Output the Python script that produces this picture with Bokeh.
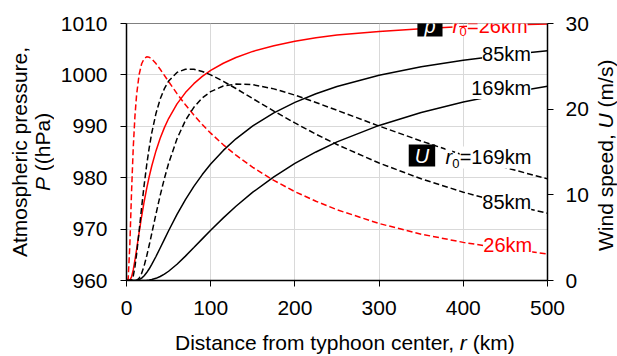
from bokeh.plotting import figure
from bokeh.models import Range1d, LinearAxis, Label, FixedTicker, Div
from bokeh.layouts import row, column
from bokeh.embed import file_html
from bokeh.resources import INLINE

# distance from typhoon center (km)
r_km = [0, 2, 4, 6, 8, 10, 12, 15, 18, 21, 24, 27, 30, 35, 40, 45, 50, 60, 70, 80,
        90, 100, 115, 130, 150, 175, 200, 225, 250, 300, 350, 400, 450, 500]

# atmospheric pressure (hPa) for r0 = 26, 85, 169 km
p_26 = [960.0, 960.0, 960.08, 960.70, 962.05, 963.94, 966.07, 969.37, 972.50, 975.37,
        977.94, 980.23, 982.28, 985.21, 987.67, 989.74, 991.51, 994.36, 996.56, 998.29,
        999.70, 1000.87, 1002.27, 1003.39, 1004.57, 1005.68, 1006.54, 1007.22, 1007.76,
        1008.45, 1009.0, 1009.4, 1009.7, 1009.9]
p_85 = [960.0, 960.0, 960.0, 960.0, 960.0, 960.01, 960.04, 960.18, 960.47, 960.93,
        961.54, 962.28, 963.12, 964.67, 966.33, 968.01, 969.68, 972.85, 975.74, 978.32,
        980.61, 982.65, 985.31, 987.57, 990.07, 992.61, 994.65, 996.33, 997.73,
        999.93, 1001.57, 1002.86, 1003.88, 1004.72]
p_169 = [960.0, 960.0, 960.0, 960.0, 960.0, 960.0, 960.0, 960.0, 960.0, 960.02,
         960.05, 960.10, 960.19, 960.42, 960.78, 961.24, 961.80, 963.17, 964.74, 966.41,
         968.10, 969.78, 972.19, 974.44, 977.18, 980.18, 982.77, 985.01, 986.96,
         990.17, 992.70, 994.74, 996.40, 997.80]

# wind speed (m/s) for r0 = 26, 85, 169 km
u_26 = [0.0, 0.19, 4.26, 10.37, 15.47, 19.15, 21.69, 24.05, 25.30, 25.90,
        26.11, 26.06, 25.86, 25.32, 24.66, 23.94, 23.22, 21.81, 20.51, 19.31,
        18.21, 17.20, 15.84, 14.63, 13.21, 11.68, 10.37, 9.25, 8.26,
        6.65, 5.41, 4.45, 3.70, 3.11]
u_85 = [0.0, 0.0, 0.0, 0.05, 0.52, 1.58, 3.09, 5.78, 8.57, 11.18,
        13.51, 15.51, 17.23, 19.50, 21.18, 22.40, 23.28, 24.29, 24.66, 24.65,
        24.40, 24.00, 23.25, 22.41, 21.23, 19.78, 18.39, 17.08, 15.87,
        13.71, 11.87, 10.31, 8.98, 7.85]
u_169 = [0.0, 0.0, 0.0, 0.0, 0.0, 0.0, 0.03, 0.26, 0.84, 1.73,
         2.86, 4.14, 5.49, 7.76, 9.93, 11.91, 13.67, 16.55, 18.68, 20.22,
         21.31, 22.05, 22.70, 22.93, 22.86, 22.37, 21.64, 20.78, 19.87,
         18.03, 16.28, 14.65, 13.18, 11.86]

x_ticks = [0, 100, 200, 300, 400, 500]
p_ticks = [960, 970, 980, 990, 1000, 1010]
u_ticks = [0, 10, 20, 30]

FONT = "Liberation Sans"

p = figure(width=536, height=330, x_range=Range1d(0, 500), y_range=Range1d(960, 1010),
           output_backend="svg", toolbar_location=None, margin=0,
           min_border_left=70, min_border_right=45, min_border_top=23, min_border_bottom=50)
p.extra_y_ranges = {"u": Range1d(0, 30)}
right_axis = LinearAxis(y_range_name="u")
p.add_layout(right_axis, "right")

p.xaxis.ticker = FixedTicker(ticks=x_ticks)
p.left[0].ticker = FixedTicker(ticks=p_ticks)
right_axis.ticker = FixedTicker(ticks=u_ticks)

for ax in [p.below[0], p.left[0], right_axis]:
    ax.axis_line_color = "black"
    ax.axis_line_width = 1.5
    ax.major_tick_line_color = "black"
    ax.major_tick_line_width = 1
    ax.major_tick_out = 6
    ax.major_tick_in = 0
    ax.minor_tick_out = 0
    ax.minor_tick_in = 0
    ax.major_label_text_font = FONT
    ax.major_label_text_font_size = "21px"
    ax.major_label_text_color = "black"
p.below[0].major_label_standoff = 14
p.left[0].major_label_standoff = 13
right_axis.major_label_standoff = 12

p.xgrid.grid_line_color = "#d9d9d9"
p.ygrid.grid_line_color = "#d9d9d9"
p.outline_line_color = "#808080"
p.outline_line_width = 1
p.background_fill_color = "white"
p.border_fill_color = "white"

p.line(r_km, p_26, line_color="red", line_width=1.5)
p.line(r_km, p_85, line_color="black", line_width=1.5)
p.line(r_km, p_169, line_color="black", line_width=1.5)
p.line(r_km, u_26, line_color="red", line_width=1.5, line_dash="6 3", y_range_name="u")
p.line(r_km, u_85, line_color="black", line_width=1.5, line_dash="6 3", y_range_name="u")
p.line(r_km, u_169, line_color="black", line_width=1.5, line_dash="6 3", y_range_name="u")


def lab(x, y, text, size="20px", color="black", style="normal", align="left",
        baseline="middle", bg=None, yr="default", pad=0):
    kw = dict(x=x, y=y, text=text, text_font=FONT, text_font_size=size,
              text_color=color, text_font_style=style, text_align=align,
              text_baseline=baseline, y_range_name=yr)
    if bg is not None:
        kw["background_fill_color"] = bg
    if pad:
        kw["padding"] = pad
    p.add_layout(Label(**kw))


# curve labels (pressure)
lab(360.4, 1009.61, "p", color="white", style="italic", align="center", bg="black",
    pad=dict(left=7, right=7, top=0, bottom=0))
lab(387.2, 1009.61, "r", color="red", style="italic", bg="white")
lab(395.5, 1008.44, "0", size="13px", color="red", bg="white")
lab(404.4, 1009.61, "=26km", color="red", bg="white")
lab(480.4, 1003.97, "85km", align="right", bg="white")
lab(480.6, 997.45, "169km", align="right", bg="white")

# curve labels (wind speed)
lab(350.9, 14.59, "U", color="white", style="italic", align="center", bg="black",
    yr="u", pad=dict(left=6, right=6, top=0, bottom=0))
lab(378.9, 14.36, "r", style="italic", bg="white", yr="u")
lab(386.8, 13.66, "0", size="13px", bg="white", yr="u")
lab(395.7, 14.36, "=169km", bg="white", yr="u")
lab(480.6, 9.16, "85km", align="right", bg="white", yr="u")
lab(481.8, 4.09, "26km", color="red", align="right", bg="white", yr="u")

# axis titles as HTML (mixed italic)
base = "font-family:'Liberation Sans';font-size:21px;color:black;white-space:nowrap;"
left_title = Div(width=56, height=330, margin=0, text=(
    "<div style=\"" + base + "writing-mode:vertical-rl;transform:rotate(180deg);"
    "height:303px;width:45px;margin-left:9px;text-align:center;line-height:22.5px;\">"
    "Atmospheric pressure,<br><i>P</i> ((hPa)</div>"))
right_title = Div(width=25, height=330, margin=0, text=(
    "<div style=\"" + base + "writing-mode:vertical-rl;transform:rotate(180deg);"
    "height:310px;width:22.5px;margin-left:3px;text-align:center;line-height:22.5px;\">"
    "Wind speed, <i>U</i> (m/s)</div>"))
bottom_title = Div(width=617, height=26, margin=0, text=(
    "<div style=\"" + base + "height:26px;line-height:26px;padding-left:175px;\">"
    "Distance from typhoon center, <i>r</i> (km)</div>"))

layout = column(row(left_title, p, right_title, spacing=0), bottom_title, spacing=0)

open("out.html", "w").write(file_html(layout, INLINE))
